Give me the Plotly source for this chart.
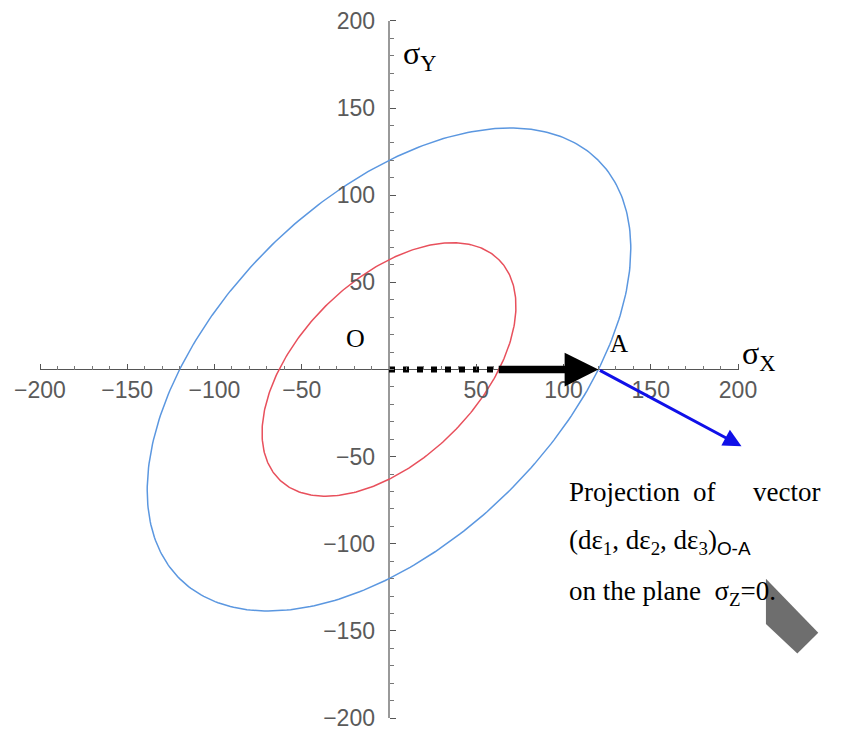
import numpy as np
import plotly.graph_objects as go

# ---- data ----
yield_stress_outer = 120   # blue von Mises ellipse (sigma_Y)
yield_stress_inner = 63    # red von Mises ellipse
major_ticks = [-200, -150, -100, -50, 50, 100, 150, 200]
tick_labels = ["\u2212200", "\u2212150", "\u2212100", "\u221250", "50", "100", "150", "200"]
minor_ticks = list(range(-200, 201, 10))
point_A = (120, 0)
dotted_start, dotted_end = 0, 62
proj_end = (202, -44)
pointer_shape = [(216, -120), (246, -151), (234, -163), (216, -146)]

def von_mises(Y, n=361):
    t = np.linspace(0, 2 * np.pi, n)
    u = np.sqrt(2) * Y * np.cos(t)
    v = np.sqrt(2 / 3) * Y * np.sin(t)
    sx = (u - v) / np.sqrt(2)
    sy = (u + v) / np.sqrt(2)
    return sx, sy

fig = go.Figure()
bx, by = von_mises(yield_stress_outer)
rx, ry = von_mises(yield_stress_inner)
fig.add_trace(go.Scatter(x=bx, y=by, mode="lines", line=dict(color="#5b97e0", width=1.5), hoverinfo="skip"))
fig.add_trace(go.Scatter(x=rx, y=ry, mode="lines", line=dict(color="#e8505c", width=1.5), hoverinfo="skip"))
# dotted part of O-A
fig.add_trace(go.Scatter(x=[dotted_start, dotted_end], y=[0, 0], mode="lines",
                         line=dict(color="black", width=6, dash="6px,8px"), hoverinfo="skip"))

# axis lines
fig.add_shape(type="line", x0=-200, x1=200, y0=0, y1=0, line=dict(color="#555555", width=1.2), layer="below")
fig.add_shape(type="line", x0=0, x1=0, y0=-200, y1=200, line=dict(color="#555555", width=1.2), layer="below")

# pointer shape
path = "M " + " L ".join(f"{x},{y}" for x, y in pointer_shape) + " Z"
fig.add_shape(type="path", path=path, fillcolor="#6e6e6e", line=dict(width=0), layer="above")

# solid arrow to A
fig.add_annotation(x=point_A[0], y=point_A[1], ax=dotted_end, ay=0, xref="x", yref="y", axref="x", ayref="y",
                   text="", showarrow=True, arrowhead=2, arrowsize=0.9, arrowwidth=7.5, arrowcolor="black", standoff=0)
# blue projection arrow
fig.add_annotation(x=proj_end[0], y=proj_end[1], ax=point_A[0], ay=point_A[1], xref="x", yref="y", axref="x", ayref="y",
                   text="", showarrow=True, arrowhead=2, arrowsize=1.2, arrowwidth=3, arrowcolor="#1010e8", standoff=0)

serif = "Liberation Serif, Times New Roman, serif"
def label(x, y, text, size, xanchor="center"):
    fig.add_annotation(x=x, y=y, text=text, showarrow=False, xanchor=xanchor, yanchor="middle",
                       font=dict(family=serif, size=size, color="black"))

label(7, 180, "\u03c3<sub>Y</sub>", 32, "left")
label(201, 8, "\u03c3<sub>X</sub>", 32, "left")
label(-19, 18, "O", 26)
label(132, 15, "A", 25)
label(102, -70, "Projection", 27, "left")
label(181, -70, "of", 27)
label(248, -70, "vector", 27, "right")
label(102, -99, "(d\u03b5<sub>1</sub>, d\u03b5<sub>2</sub>, d\u03b5<sub>3</sub>)"
      "<sub><span style=\"font-family:Liberation Sans\">O-A</span></sub>", 27, "left")
label(102, -128, "on the plane  \u03c3<sub>Z</sub>=0.", 27, "left")

# page body has an 8px margin, so map reference pixels with that offset
W, H = 840, 723
x0px, y0px, sx, sy = 381, 360, 1.745, 1.75
axis_font = dict(family="Liberation Sans, Arial, sans-serif", size=23, color="#5a5a5a")
fig.update_layout(
    width=W, height=H, margin=dict(l=0, r=0, t=0, b=0),
    paper_bgcolor="white", plot_bgcolor="white", showlegend=False,
    xaxis=dict(range=[-x0px / sx, (W - x0px) / sx], showgrid=False, zeroline=False, showline=False,
               anchor="free", position=1 - y0px / H, side="bottom",
               tickmode="array", tickvals=major_ticks, ticktext=tick_labels, ticks="inside",
               ticklen=6, tickcolor="#555555", tickfont=axis_font, ticklabelstandoff=4,
               ticklabeloverflow="allow",
               minor=dict(tickvals=minor_ticks, ticks="inside", ticklen=4, tickcolor="#777777")),
    yaxis=dict(range=[-(H - y0px) / sy, y0px / sy], showgrid=False, zeroline=False, showline=False,
               anchor="free", position=x0px / W, side="left",
               tickmode="array", tickvals=major_ticks, ticktext=tick_labels, ticks="inside",
               ticklen=6, tickcolor="#555555", tickfont=axis_font, ticklabelstandoff=14,
               ticklabeloverflow="allow",
               minor=dict(tickvals=minor_ticks, ticks="inside", ticklen=4, tickcolor="#777777")),
)
fig.write_html("out.html")
